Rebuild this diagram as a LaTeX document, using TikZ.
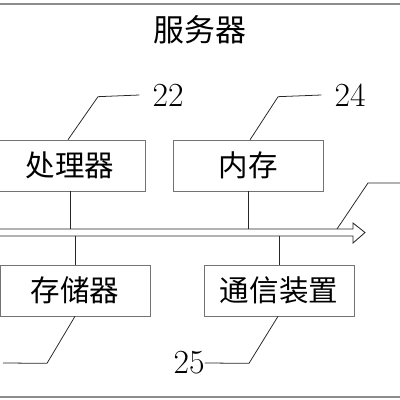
\documentclass[tikz,border=0pt]{standalone}
\usepackage{fontspec}
\newfontfamily\cjk{Noto Sans CJK SC}
\usetikzlibrary{arrows.meta}

\begin{document}
\begin{tikzpicture}[x=0.25mm,y=-0.25mm,
  box/.style={draw=black!55,line width=0.45pt,minimum width=37.5mm,minimum height=12.75mm,inner sep=0pt,font=\cjk\fontsize{21}{24}\selectfont},
  wire/.style={draw=black!85,line width=0.55pt},
  num/.style={inner sep=0pt,font=\fontsize{24}{26}\selectfont},
  frame/.style={draw=black!45,line width=0.9pt},
  bus/.style={draw=black!85,line width=0.6pt,line join=miter},
]
\useasboundingbox (0,0) rectangle (400,400);

\draw[frame] (-5,4) -- (405,4);
\draw[frame] (-5,397) -- (405,397);

\node[inner sep=0pt,font=\cjk\fontsize{22}{24}\selectfont] (title) at (200,30) {服务器};

% upper row
\node[box] (proc) at (70,165.5) {处理器};
\node[box] (mem) at (248.5,165.5) {内存};
% lower row
\node[box] (stor) at (75,290.5) {存储器};
\node[box] (comm) at (279,290.5) {通信装置};

% bus (hollow arrow)
\coordinate (busT) at (-5,229);
\coordinate (busB) at (-5,236);
\coordinate (tip) at (365,232.5);
\draw[bus] (busT) -- (353,229) -- (353,223) -- (tip) -- (353,243) -- (353,236) -- (busB);

\draw[wire] (proc.south) -- (proc.south |- busT);
\draw[wire] (mem.south) -- (mem.south |- busT);
\draw[wire] (stor.north) -- (stor.north |- busB);
\draw[wire] (comm.north) -- (comm.north |- busB);

% reference numbers
\node[num] (n22) at (168,95) {22};
\node[num] (n24) at (350,95) {24};
\node[num] (n25) at (189,363) {25};

\draw[wire] ([xshift=-0.5mm]proc.north) -- ++(30,-43) -- ([xshift=-3.2mm]n22.west);
\draw[wire] ([xshift=0.4mm]mem.north) -- ++(28,-43) -- ([xshift=-3.2mm]n24.west);
\draw[wire] (337,229) -- (368,183) -- (405,183);
\draw[wire] (stor.south) -- ++(-28,47) -- (3,363);
\draw[wire] ([xshift=-0.25mm]comm.south) -- ++(-29,47) -- (n25.east);

\end{tikzpicture}
\end{document}
